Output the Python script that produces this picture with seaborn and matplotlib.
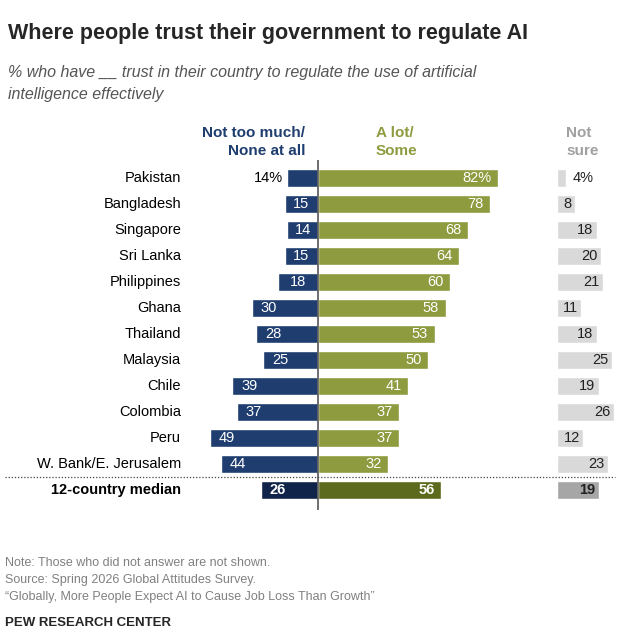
import matplotlib
matplotlib.use("Agg")
import matplotlib.pyplot as plt
import seaborn as sns
import pandas as pd

countries = ["Pakistan", "Bangladesh", "Singapore", "Sri Lanka", "Philippines", "Ghana",
             "Thailand", "Malaysia", "Chile", "Colombia", "Peru", "W. Bank/E. Jerusalem",
             "12-country median"]
not_much = [14, 15, 14, 15, 18, 30, 28, 25, 39, 37, 49, 44, 26]
a_lot = [82, 78, 68, 64, 60, 58, 53, 50, 41, 37, 37, 32, 56]
not_sure = [4, 8, 18, 20, 21, 11, 18, 25, 19, 26, 12, 23, 19]

sns.set_style("white")
plt.rcParams['font.family'] = ['Liberation Sans', 'DejaVu Sans']

W, H = 639, 636
fig = plt.figure(figsize=(W / 100, H / 100), dpi=100)
ax = fig.add_axes([0, 1 - 510 / H, 1, 350 / H])
S = 2.2
x0 = 318
n = len(countries)
blue = ["#1f3e6f"] * (n - 1) + ["#0f2448"]
green = ["#8e9b3e"] * (n - 1) + ["#5b6a1c"]
gray = ["#d9d9d9"] * (n - 1) + ["#a6a6a6"]
df = pd.DataFrame({"c": countries, "neg": [-v for v in not_much], "pos": a_lot, "ns": not_sure})
sns.barplot(data=df, y="c", x="neg", hue="c", palette=blue, legend=False, ax=ax, width=0.7,
            orient="h", saturation=1)
sns.barplot(data=df, y="c", x="pos", hue="c", palette=green, legend=False, ax=ax, width=0.7,
            orient="h", saturation=1)
ns0 = (557 - x0) / S
ax.barh(range(n), not_sure, left=ns0, height=0.7, color=gray)
ax.set_xlim(-x0 / S, (W - x0) / S)
ax.set_ylim(12.77, -0.69)
ax.axis("off")

for i in range(n):
    med = i == n - 1
    fw = "bold" if med else "normal"
    ax.text((181 - x0) / S, i, countries[i], ha="right", va="center", fontsize=10.5,
            fontweight=fw, color="black")
    b = not_much[i]
    if i == 0:
        ax.text(-b - 2, i, f"{b}%", ha="right", va="center", fontsize=10.5, color="black")
    elif b < 20:
        ax.text(-b / 2, i, str(b), ha="center", va="center", fontsize=10.5, color="white", fontweight=fw)
    else:
        ax.text(-b + 4, i, str(b), ha="left", va="center", fontsize=10.5, color="white", fontweight=fw)
    g = a_lot[i]
    ax.text(g - 3, i, f"{g}%" if i == 0 else str(g), ha="right", va="center", fontsize=10.5,
            color="white", fontweight=fw)
    s = not_sure[i]
    ax.text(ns0 + s + 3 if i == 0 else ns0 + s - 1.5, i, f"{s}%" if i == 0 else str(s),
            ha="left" if i == 0 else "right", va="center", fontsize=10.5, color="#222222", fontweight=fw)

ax.plot([0, 0], [-0.69, 12.77], color="#555555", lw=1.2)
ax.plot([(5 - x0) / S, (615 - x0) / S], [11.5, 11.5], color="#444444", lw=0.9, ls=(0, (1, 1.5)))

fig.text(8 / W, 1 - 33 / H, "Where people trust their government to regulate AI", fontsize=15.5,
         fontweight="bold", va="center")
fig.text(8 / W, 1 - 72 / H, "% who have __ trust in their country to regulate the use of artificial",
         fontsize=11.5, style="italic", color="#555555", va="center")
fig.text(8 / W, 1 - 95 / H, "intelligence effectively", fontsize=11.5, style="italic",
         color="#555555", va="center")
fig.text(305 / W, 1 - 142 / H, "Not too much/\nNone at all", ha="right", va="center",
         fontsize=11, fontweight="bold", color="#1f3e6f", linespacing=1.3)
fig.text(376 / W, 1 - 142 / H, "A lot/\nSome", ha="left", va="center",
         fontsize=11, fontweight="bold", color="#8e9b3e", linespacing=1.3)
fig.text(566 / W, 1 - 142 / H, "Not\nsure", ha="left", va="center",
         fontsize=11, fontweight="bold", color="#a0a0a0", linespacing=1.3)

for y, t in [(563, "Note: Those who did not answer are not shown."),
             (580, "Source: Spring 2026 Global Attitudes Survey."),
             (597, "“Globally, More People Expect AI to Cause Job Loss Than Growth”")]:
    fig.text(5 / W, 1 - y / H, t, fontsize=9, color="#808080", va="center")
fig.text(5 / W, 1 - 623 / H, "PEW RESEARCH CENTER", fontsize=9.5, fontweight="bold", va="center")

fig.savefig("out.png", dpi=100)
